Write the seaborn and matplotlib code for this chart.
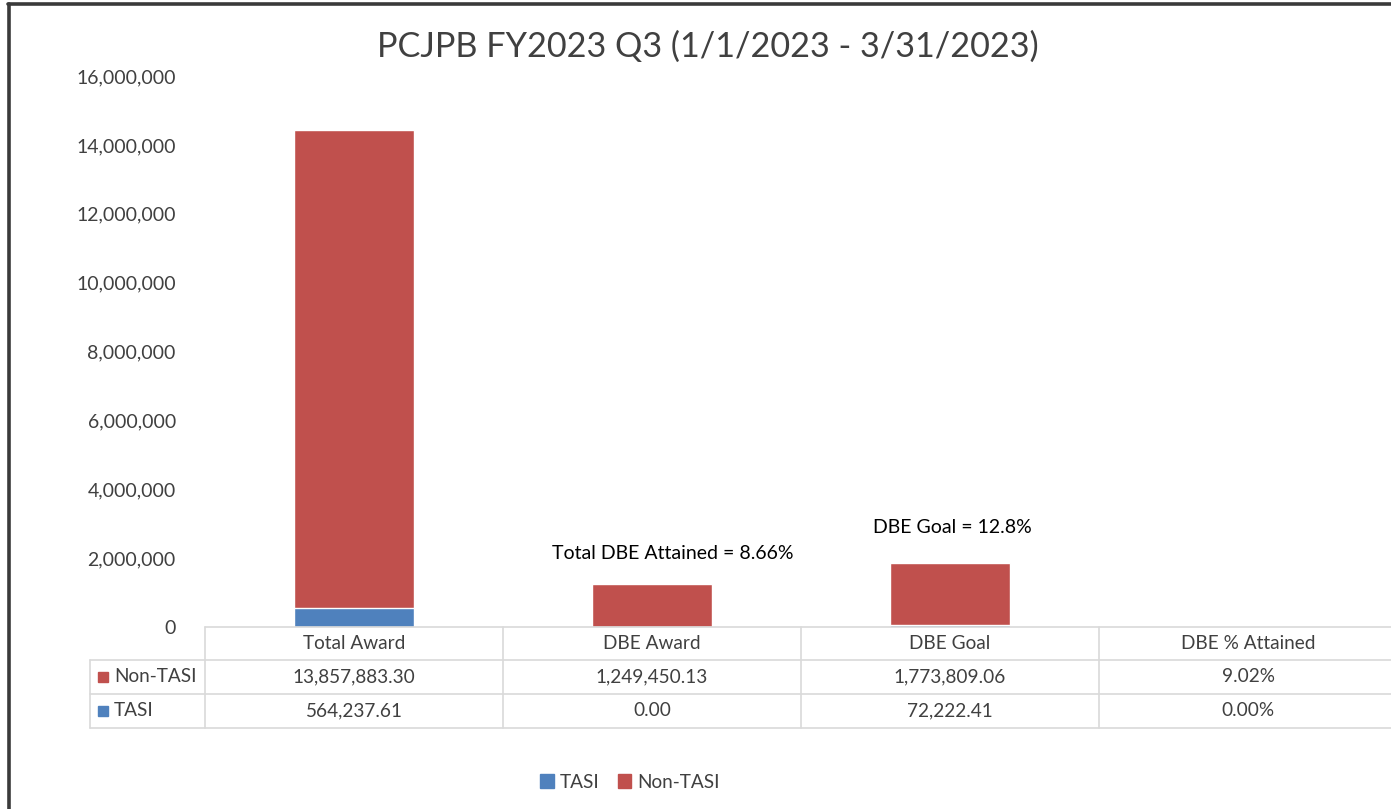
"""Barra apilada estilo Excel con tabla de datos bajo el eje."""

import matplotlib.pyplot as plt
import matplotlib.transforms as mtransforms
import pandas as pd
import seaborn as sns
from matplotlib.lines import Line2D
from matplotlib.patches import Patch, Rectangle

categories = ["Total Award", "DBE Award", "DBE Goal", "DBE % Attained"]
non_tasi = [13857883.30, 1249450.13, 1773809.06, 9.02]
tasi = [564237.61, 0.00, 72222.41, 0.00]
series_names = ["Non-TASI", "TASI"]
annotations = {1: "Total DBE Attained = 8.66%", 2: "DBE Goal = 12.8%"}
title = "PCJPB FY2023 Q3 (1/1/2023 - 3/31/2023)"

RED = "#C0504D"
BLUE = "#4F81BD"
GRID = "#D9D9D9"
TXT = "#404040"

sns.set_theme(style="white")
plt.rcParams["font.family"] = ["Lato", "DejaVu Sans"]

W, H = 1391, 809
fig = plt.figure(figsize=(W / 100, H / 100), dpi=100)
fig.patch.set_facecolor("white")


def px(x, y):
    return x / W, 1 - y / H


ax_left, ax_top, ax_right, ax_bottom = 205, 76, 1397, 627
ax = fig.add_axes([ax_left / W, 1 - ax_bottom / H, (ax_right - ax_left) / W, (ax_bottom - ax_top) / H])

df = pd.DataFrame({"cat": categories, "non_tasi": non_tasi, "tasi": tasi})
df["total"] = df["non_tasi"] + df["tasi"]

sns.barplot(data=df, x="cat", y="total", color=RED, saturation=1, width=0.4, ax=ax)
sns.barplot(data=df, x="cat", y="tasi", color=BLUE, saturation=1, width=0.4, ax=ax)

ax.set_ylim(0, 16_000_000)
ax.set_xlim(-0.5, len(categories) - 0.5)
ax.set_yticks(range(0, 16_000_001, 2_000_000))
ax.set_yticklabels([f"{v:,}" for v in range(0, 16_000_001, 2_000_000)], fontsize=14, color=TXT)
ax.tick_params(axis="y", length=0, pad=21)
ax.set_xticks([])
ax.set_xlabel("")
ax.set_ylabel("")
for s in ax.spines.values():
    s.set_visible(False)

# desplazamiento (pt) de cada etiqueta respecto al tope de su barra
label_offsets = {1: (15, 16), 2: (2, 20)}
for i, txt in annotations.items():
    top = df["total"].iloc[i]
    ax.annotate(txt, (i, top), xytext=label_offsets[i], textcoords="offset points",
                ha="center", va="bottom", fontsize=14, color="black")

fig.text(0.509, px(0, 47)[1], title, ha="center", va="center", fontsize=24.7, color=TXT)

# Tabla de datos
blend = mtransforms.blended_transform_factory(ax.transData, fig.transFigure)
row_y = [627, 660, 694, 728]
row_lab_left = px(90, 0)[0]


def hline(y, x0_fig):
    yf = px(0, y)[1]
    fig.add_artist(Line2D([x0_fig, ax_right / W], [yf, yf], color=GRID, lw=1.2, transform=fig.transFigure))


hline(row_y[0], ax_left / W)
for y in row_y[1:]:
    hline(y, row_lab_left)
for i in range(len(categories) + 1):
    fig.add_artist(Line2D([i - 0.5, i - 0.5], [px(0, row_y[0])[1], px(0, row_y[-1])[1]],
                          color=GRID, lw=1.2, transform=blend))
fig.add_artist(Line2D([row_lab_left, row_lab_left], [px(0, row_y[1])[1], px(0, row_y[-1])[1]],
                      color=GRID, lw=1.2, transform=fig.transFigure))


def fmt(v, col):
    return f"{v:.2f}%" if col == "DBE % Attained" else f"{v:,.2f}"


for i, cat in enumerate(categories):
    yc = px(0, (row_y[0] + row_y[1]) / 2)[1]
    fig.text(i, yc, cat, transform=blend, ha="center", va="center", fontsize=13.7, color=TXT)
    for r, vals in enumerate([non_tasi, tasi]):
        yc = px(0, (row_y[r + 1] + row_y[r + 2]) / 2)[1]
        fig.text(i, yc, fmt(vals[i], cat), transform=blend, ha="center", va="center",
                 fontsize=13.7, color=TXT)

for r, (name, col) in enumerate(zip(series_names, [RED, BLUE])):
    ymid = (row_y[r + 1] + row_y[r + 2]) / 2
    x0, y0 = px(98, ymid + 5)
    fig.add_artist(Rectangle((x0, y0), 10 / W, 10 / H, color=col, transform=fig.transFigure))
    fig.text(px(114, 0)[0], px(0, ymid)[1], name, ha="left", va="center", fontsize=13.7, color=TXT)

# Leyenda inferior
handles = [Patch(color=BLUE, label="TASI"), Patch(color=RED, label="Non-TASI")]
fig.legend(handles=handles, loc="center", bbox_to_anchor=px(630, 782), ncol=2, frameon=False,
           fontsize=13.7, handlelength=0.7, handleheight=0.7, handletextpad=0.3, columnspacing=1.0,
           labelcolor=TXT)

# Marco exterior
for xs, ys in [([8, W], [4, 4]), ([9, 9], [4, H])]:
    fig.add_artist(Line2D([x / W for x in xs], [1 - y / H for y in ys], color="#3A3A3A", lw=2.6,
                          transform=fig.transFigure))

fig.savefig("out.png", dpi=100)
